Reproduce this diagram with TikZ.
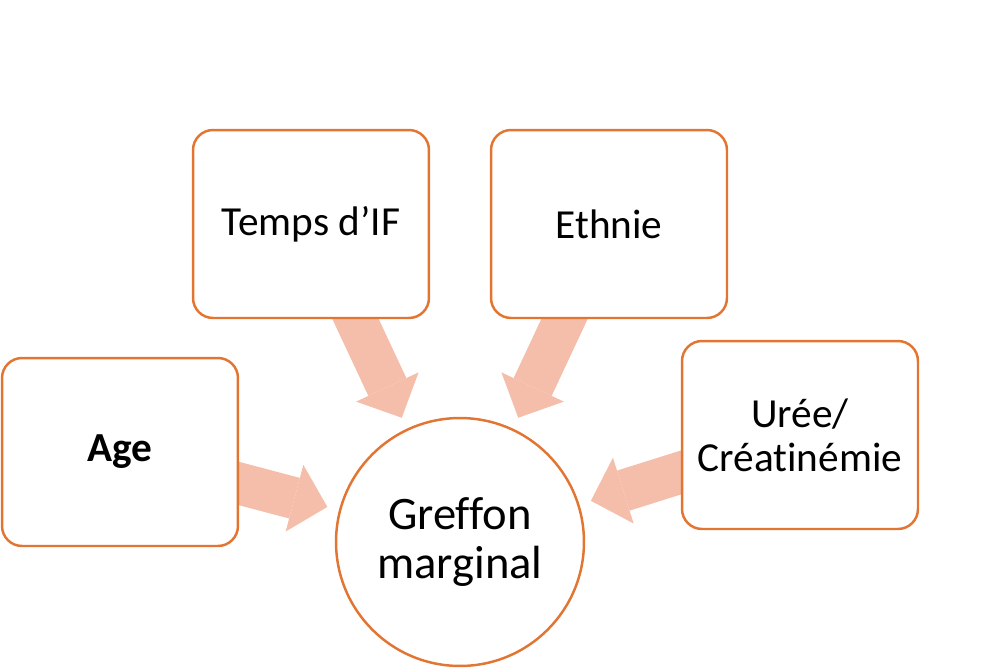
\documentclass[tikz,border=0pt]{standalone}
\usepackage{fontspec}
\setmainfont{Carlito}[Ligatures=CommonOff]
\usepackage{xcolor}
\usepackage{tikz}
\usetikzlibrary{arrows.meta,backgrounds}

\definecolor{boxline}{RGB}{226,117,50}
\definecolor{arrowfill}{RGB}{244,190,170}

\tikzset{
  factor/.style={draw=boxline, line width=1.4pt, fill=white, rounded corners=0.4cm,
    minimum width=4.72cm, minimum height=3.76cm, align=center,
    font=\fontsize{23.5}{25}\selectfont},
  outcome/.style={circle, draw=boxline, line width=1.4pt, fill=white,
    minimum size=4.96cm, align=center, font=\fontsize{26.5}{27.5}\selectfont},
  bigarrow/.style={arrowfill, line width=0.84cm,
    -{Triangle[length=0.68cm, width=1.38cm, line width=0pt]}, shorten >=0.24cm}
}

\begin{document}
\begin{tikzpicture}[x=0.02cm, y=-0.02cm]
            \useasboundingbox (0,0) rectangle (992,670);

            \node[factor] (temps) at (311,224) {Temps d’IF};
            \node[factor] (ethnie) at (609,224) {Ethnie};
            \node[factor] (age) at (120,452) {\textbf{Age}};
            \node[factor] (uree) at (800,435) {Urée/\\Créatinémie};
            \node[outcome] (greffon) at (460,542) {Greffon\\marginal};

            % block arrows sit under the boxes
            \begin{scope}[on background layer]
              \draw[bigarrow] (temps.center) -- (greffon);
              \draw[bigarrow] (ethnie.center) -- (greffon);
              \draw[bigarrow] (age.center) -- (greffon);
              \draw[bigarrow] (uree.center) -- (greffon);
            \end{scope}
         \end{tikzpicture}
\end{document}
